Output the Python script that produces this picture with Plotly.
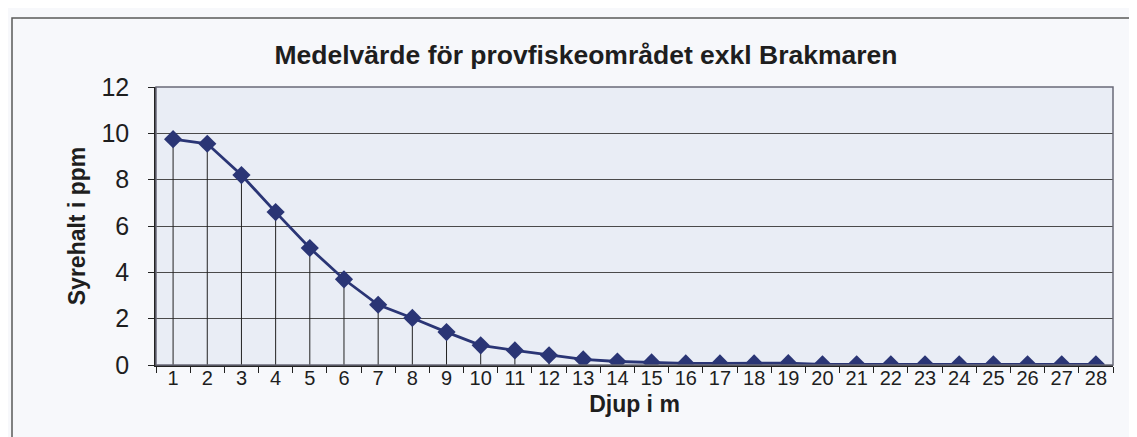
import plotly.graph_objects as go

depth = [str(i) for i in range(1, 29)]
oxygen = [9.75, 9.55, 8.2, 6.6, 5.05, 3.7, 2.6, 2.03, 1.42, 0.85, 0.63, 0.42,
          0.24, 0.15, 0.11, 0.07, 0.07, 0.07, 0.08, 0.03, 0.03, 0.03, 0.03, 0.03,
          0.03, 0.03, 0.03, 0.03]
y_ticks = [0, 2, 4, 6, 8, 10, 12]

title = "Medelvärde för provfiskeområdet exkl Brakmaren"
x_title = "Djup i m"
y_title = "Syrehalt i ppm"

# drop lines built from the data
drop_x, drop_y = [], []
for d, v in zip(depth, oxygen):
    drop_x += [d, d, None]
    drop_y += [0, v, None]

fig = go.Figure()
fig.add_trace(go.Scatter(x=drop_x, y=drop_y, mode="lines",
                         line=dict(color="#222222", width=1),
                         hoverinfo="skip", showlegend=False))
fig.add_trace(go.Scatter(x=depth, y=oxygen, mode="lines+markers",
                         line=dict(color="#2a3575", width=2.8),
                         marker=dict(symbol="diamond", size=14, color="#2a3575"),
                         showlegend=False))

font_family = "Liberation Sans, Arial, sans-serif"
L, R, T, B = 148, 32, 79, 80
W, H = 1137, 437
pw, ph = W - L - R, H - T - B

fig.update_layout(
    width=W, height=H,
    margin=dict(l=L, r=R, t=T, b=B, pad=0),
    paper_bgcolor="#f7f8fb",
    plot_bgcolor="#e9edf5",
    font=dict(family=font_family, color="#1e1e1e"),
    title=dict(text="<b>" + title + "</b>", x=578 / W, xanchor="center",
               y=1 - 47 / H, yanchor="middle",
               font=dict(size=26.5, color="#1e1e1e")),
    xaxis=dict(type="category", tickson="boundaries", ticks="outside",
               ticklen=6, tickcolor="#222", showgrid=False,
               showline=True, linecolor="#222", linewidth=1.5,
               tickfont=dict(size=20), ticklabelstandoff=-6,
               title=dict(text="<b>" + x_title + "</b>", font=dict(size=23),
                          standoff=8),
               range=[-0.5, 27.5]),
    yaxis=dict(range=[0, 12], tickvals=y_ticks, ticks="outside", ticklen=6,
               tickcolor="#222", showgrid=True, gridcolor="#4a4a4a", gridwidth=1,
               showline=True, linecolor="#222", linewidth=1.5,
               zeroline=False, ticklabelstandoff=14,
               tickfont=dict(size=25),
               title=dict(text="<b>" + y_title + "</b>", font=dict(size=23),
                          standoff=9)),
    shapes=[
        dict(type="rect", xref="paper", yref="paper", x0=0, x1=1, y0=0, y1=1,
             line=dict(color="#6a6a78", width=1.5), layer="above"),
        dict(type="rect", xref="paper", yref="paper",
             x0=(4 - L) / pw, x1=(1145 - L) / pw,
             y0=-(435 - (H - B)) / ph, y1=((H - B) - 10) / ph,
             line=dict(color="#5a5a5a", width=1.5)),
    ],
)

fig.write_html("out.html")
